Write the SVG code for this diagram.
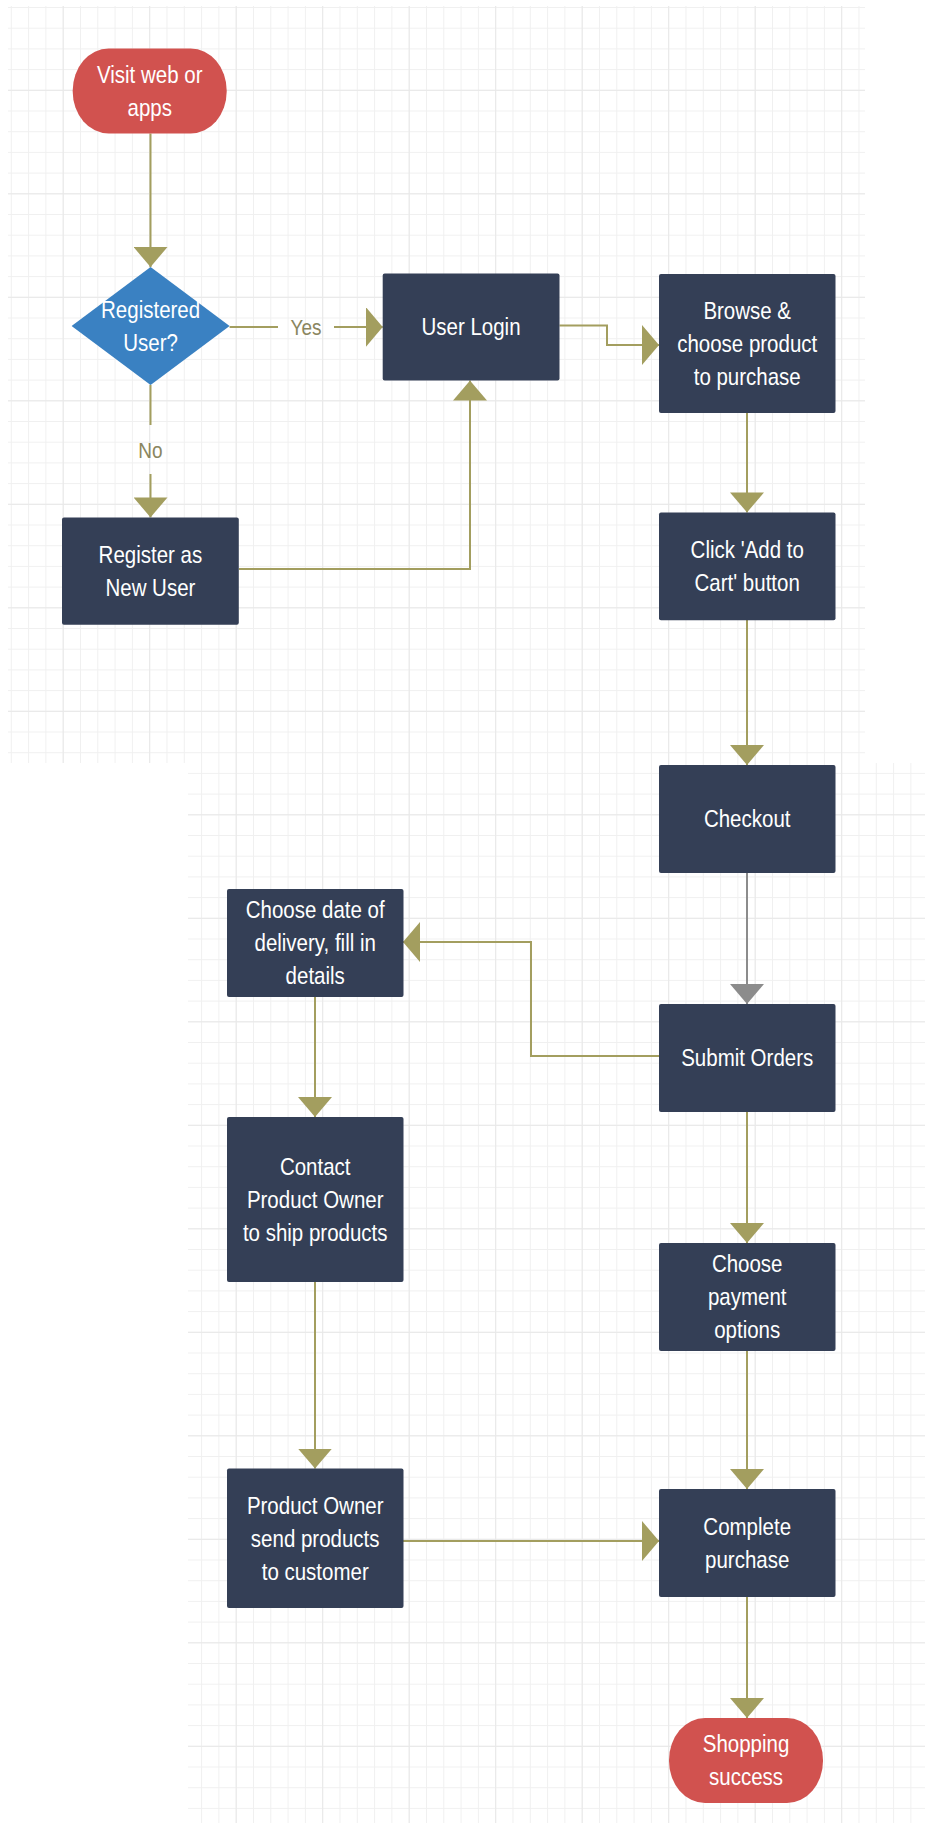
<svg xmlns="http://www.w3.org/2000/svg" width="925" height="1823" viewBox="0 0 925 1823">
<style>
.n{fill:#343F56}
.r{fill:#D1524F}
.d{fill:#3A81C2}
.t{font-family:"Liberation Sans",Arial,sans-serif;font-size:20.5px;fill:#FFFFFF;text-anchor:middle}
.lb{font-family:"Liberation Sans",Arial,sans-serif;font-size:19px;fill:#8A8660;text-anchor:middle}
.c{fill:none;stroke:#A39E5F;stroke-width:2}
.cg{fill:none;stroke:#8C8C8C;stroke-width:2}
</style>
<defs>
<pattern id="gmin" patternUnits="userSpaceOnUse" x="10.8" y="7" width="17.3" height="20.7">
<path d="M0.5,0 V20.7 M0,0.5 H17.3" fill="none" stroke="#F0F0F0" stroke-width="1"/>
</pattern>
<pattern id="gmaj" patternUnits="userSpaceOnUse" x="62.7" y="89.8" width="86.5" height="103.5">
<path d="M0.5,0 V103.5 M0,0.5 H86.5" fill="none" stroke="#E8E8E8" stroke-width="1"/>
</pattern>
<marker id="av" markerUnits="userSpaceOnUse" markerWidth="20" markerHeight="34" refX="20" refY="17" orient="auto">
<path d="M0,0 L20,17 L0,34 z" fill="#A39E5F"/>
</marker>
<marker id="avg" markerUnits="userSpaceOnUse" markerWidth="20" markerHeight="34" refX="20" refY="17" orient="auto">
<path d="M0,0 L20,17 L0,34 z" fill="#8C8C8C"/>
</marker>
<marker id="ah" markerUnits="userSpaceOnUse" markerWidth="17" markerHeight="40" refX="17" refY="20" orient="auto">
<path d="M0,0 L17,20 L0,40 z" fill="#A39E5F"/>
</marker>
</defs>
<rect x="0" y="0" width="925" height="1823" fill="#FFFFFF"/>
<g id="grid">
<rect x="8" y="6" width="857" height="757" fill="url(#gmin)"/>
<rect x="188" y="763" width="737" height="1060" fill="url(#gmin)"/>
<rect x="8" y="6" width="857" height="757" fill="url(#gmaj)"/>
<rect x="188" y="763" width="737" height="1060" fill="url(#gmaj)"/>
</g>
<g id="connectors">
<path class="c" d="M150.5,133.5 V267" marker-end="url(#av)"/>
<path class="c" d="M229.6,327 H278"/>
<path class="c" d="M334,327 H382.7" marker-end="url(#ah)"/>
<text class="lb" transform="translate(306,327) scale(1,1.2)" y="7">Yes</text>
<path class="c" d="M150.5,385 V425"/>
<path class="c" d="M150.5,474 V517.4" marker-end="url(#av)"/>
<text class="lb" transform="translate(150.5,450) scale(1,1.2)" y="7">No</text>
<path class="c" d="M239,569 H470 V380.6" marker-end="url(#av)"/>
<path class="c" d="M559.5,325.5 H607 V345 H659" marker-end="url(#ah)"/>
<path class="c" d="M747,413 V512.4" marker-end="url(#av)"/>
<path class="c" d="M747,620 V765" marker-end="url(#av)"/>
<path class="cg" d="M747,873 V1004" marker-end="url(#avg)"/>
<path class="c" d="M659,1056 H531 V942 H403" marker-end="url(#ah)"/>
<path class="c" d="M747,1112 V1243" marker-end="url(#av)"/>
<path class="c" d="M747,1351 V1489" marker-end="url(#av)"/>
<path class="c" d="M747,1597 V1718" marker-end="url(#av)"/>
<path class="c" d="M315,997 V1117" marker-end="url(#av)"/>
<path class="c" d="M315,1282 V1468.6" marker-end="url(#av)"/>
<path class="c" d="M403,1541 H659" marker-end="url(#ah)"/>
</g>
<g id="start">
<rect class="r" x="72.7" y="48.5" width="154" height="85" rx="36" ry="42"/>
<text class="t" transform="translate(149.7,91) scale(1,1.2)"><tspan x="0" y="-6.75">Visit web or</tspan><tspan x="0" y="20.75">apps</tspan></text>
</g>
<g id="registered">
<polygon class="d" points="150.6,267 229.6,326 150.6,385 71.6,326"/>
<text class="t" transform="translate(150.6,326) scale(1,1.2)"><tspan x="0" y="-6.75">Registered</tspan><tspan x="0" y="20.75">User?</tspan></text>
</g>
<g id="login">
<rect class="n" x="382.7" y="273.6" width="176.8" height="107" rx="2"/>
<text class="t" transform="translate(471,327) scale(1,1.2)"><tspan x="0" y="7">User Login</tspan></text>
</g>
<g id="register">
<rect class="n" x="62" y="517.4" width="176.8" height="107.4" rx="2"/>
<text class="t" transform="translate(150.4,571) scale(1,1.2)"><tspan x="0" y="-6.75">Register as</tspan><tspan x="0" y="20.75">New User</tspan></text>
</g>
<g id="browse">
<rect class="n" x="659" y="274" width="176.5" height="139" rx="2"/>
<text class="t" transform="translate(747.2,343.5) scale(1,1.2)"><tspan x="0" y="-20.5">Browse &amp;</tspan><tspan x="0" y="7">choose product</tspan><tspan x="0" y="34.5">to purchase</tspan></text>
</g>
<g id="addtocart">
<rect class="n" x="659" y="512.4" width="176.5" height="107.8" rx="2"/>
<text class="t" transform="translate(747.2,566.3) scale(1,1.2)"><tspan x="0" y="-6.75">Click 'Add to</tspan><tspan x="0" y="20.75">Cart' button</tspan></text>
</g>
<g id="checkout">
<rect class="n" x="659" y="765" width="176.5" height="108" rx="2"/>
<text class="t" transform="translate(747.2,819) scale(1,1.2)"><tspan x="0" y="7">Checkout</tspan></text>
</g>
<g id="submit">
<rect class="n" x="659" y="1004" width="176.5" height="108" rx="2"/>
<text class="t" transform="translate(747.2,1058) scale(1,1.2)"><tspan x="0" y="7">Submit Orders</tspan></text>
</g>
<g id="choosedate">
<rect class="n" x="227" y="889" width="176.5" height="108" rx="2"/>
<text class="t" transform="translate(315.2,943) scale(1,1.2)"><tspan x="0" y="-20.5">Choose date of</tspan><tspan x="0" y="7">delivery, fill in</tspan><tspan x="0" y="34.5">details</tspan></text>
</g>
<g id="contact">
<rect class="n" x="227" y="1117" width="176.5" height="165" rx="2"/>
<text class="t" transform="translate(315.2,1199.5) scale(1,1.2)"><tspan x="0" y="-20.5">Contact</tspan><tspan x="0" y="7">Product Owner</tspan><tspan x="0" y="34.5">to ship products</tspan></text>
</g>
<g id="payment">
<rect class="n" x="659" y="1243" width="176.5" height="108" rx="2"/>
<text class="t" transform="translate(747.2,1297) scale(1,1.2)"><tspan x="0" y="-20.5">Choose</tspan><tspan x="0" y="7">payment</tspan><tspan x="0" y="34.5">options</tspan></text>
</g>
<g id="ownersend">
<rect class="n" x="227" y="1468.6" width="176.5" height="139.4" rx="2"/>
<text class="t" transform="translate(315.2,1538.3) scale(1,1.2)"><tspan x="0" y="-20.5">Product Owner</tspan><tspan x="0" y="7">send products</tspan><tspan x="0" y="34.5">to customer</tspan></text>
</g>
<g id="complete">
<rect class="n" x="659" y="1489" width="176.5" height="108" rx="2"/>
<text class="t" transform="translate(747.2,1543) scale(1,1.2)"><tspan x="0" y="-6.75">Complete</tspan><tspan x="0" y="20.75">purchase</tspan></text>
</g>
<g id="end">
<rect class="r" x="669" y="1718" width="154" height="85" rx="36" ry="42"/>
<text class="t" transform="translate(746,1760.5) scale(1,1.2)"><tspan x="0" y="-6.75">Shopping</tspan><tspan x="0" y="20.75">success</tspan></text>
</g>
</svg>
